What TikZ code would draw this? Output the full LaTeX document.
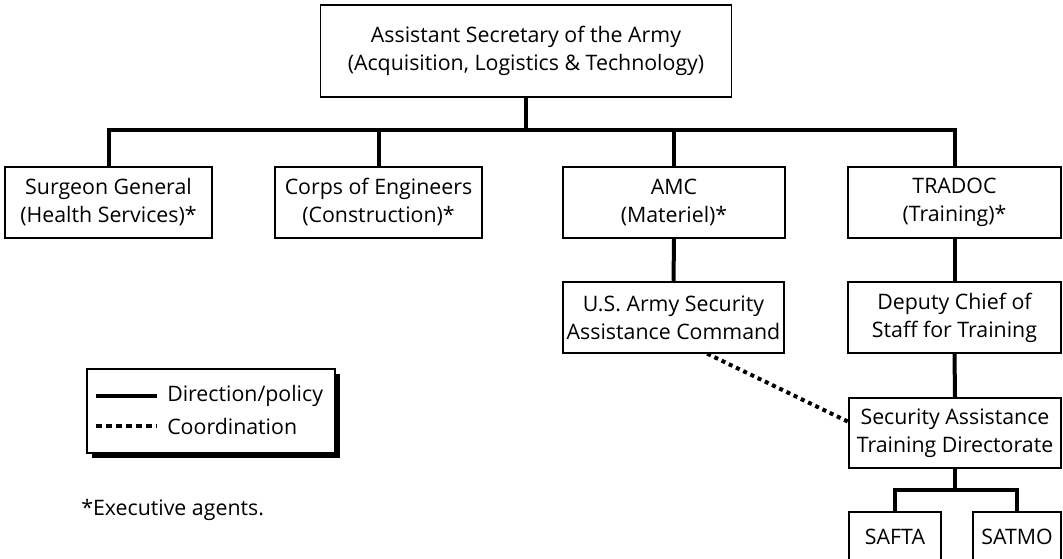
\documentclass[tikz,border=0pt]{standalone}
\usepackage{fontspec}
\setmainfont{Open Sans}
\usetikzlibrary{positioning, calc, shadows}
\definecolor{Ink}{HTML}{000000}
\definecolor{Paper}{HTML}{FFFFFF}
\newdimen\pxu
\pxu=0.75pt
\tikzset{
    orgbox/.style={rectangle, draw=Ink, line width=1pt, fill=Paper, text=Ink, align=center, inner sep=0pt,
        font=\fontsize{16}{21}\selectfont},
    orgtext/.style={anchor=west, inner sep=0pt, text=Ink, font=\fontsize{16}{21}\selectfont},
    tree/.style={draw=Ink, line width=3pt},
    coord/.style={draw=Ink, line width=3pt, dash pattern=on 3pt off 3pt},
    legendbox/.style={rectangle, draw=Ink, line width=1pt, fill=Paper,
        drop shadow={shadow xshift=5\pxu, shadow yshift=-5\pxu, fill=Ink, opacity=1}},
}

\begin{document}
\begin{tikzpicture}[x=0.75pt, y=-0.75pt]
    \clip (0,0) rectangle (1063,559);
    \useasboundingbox (0,0) rectangle (1063,559);

    % Vertice
    \node[orgbox, minimum width=411\pxu, minimum height=92\pxu] (asa) at (526,51)
        {Assistant Secretary of the Army\\(Acquisition, Logistics \& Technology)};

    % Agenti esecutivi
    \node[orgbox, minimum width=207\pxu, minimum height=71\pxu] (sg) at (108.5,202.5) {Surgeon General\\(Health Services)*};
    \node[orgbox, minimum width=207\pxu, minimum height=71\pxu] (coe) at (378.5,202.5) {Corps of Engineers\\(Construction)*};
    \node[orgbox, minimum width=222\pxu, minimum height=71\pxu] (amc) at (674,202.5) {AMC\\(Materiel)*};
    \node[orgbox, minimum width=213\pxu, minimum height=71\pxu] (tradoc) at (954.5,202.5) {TRADOC\\(Training)*};

    % Livello inferiore
    \node[orgbox, minimum width=221\pxu, minimum height=71\pxu] (usasac) at (673.5,317.5) {U.S. Army Security\\Assistance Command};
    \node[orgbox, minimum width=213\pxu, minimum height=71\pxu] (dcst) at (954.5,317.5) {Deputy Chief of\\Staff for Training};
    \node[orgbox, minimum width=212\pxu, minimum height=70\pxu] (satd) at (955,433) {Security Assistance\\Training Directorate};
    \node[orgbox, minimum width=92\pxu, minimum height=50\pxu] (safta) at (895,537) {SAFTA};
    \node[orgbox, minimum width=88\pxu, minimum height=50\pxu] (satmo) at (1017,537) {SATMO};

    % Linee di direzione
    \coordinate (bar) at (530,130);
    \coordinate (sbar) at (957,490);
    \draw[tree] (asa.south) -- (asa.south |- bar);
    \draw[tree] (sg.north) |- (bar) -| (tradoc.north);
    \draw[tree] (coe.north) -- (coe.north |- bar);
    \draw[tree] (amc.north) -- (amc.north |- bar);
    \draw[tree] (amc.south) -- (usasac.north);
    \draw[tree] (tradoc.south) -- (dcst.north);
    \draw[tree] (dcst.south) -- (satd.north);
    \draw[tree] (satd.south) -- (satd.south |- sbar);
    \draw[tree] (safta.north) |- (sbar) -| (satmo.north);

    % Coordinamento
    \draw[coord] (usasac.-47) -- (satd.174);

    % Legenda
    \node[legendbox, minimum width=248\pxu, minimum height=84\pxu] (legend) at (211,411) {};
    \coordinate (solidA) at (96,396);
    \coordinate (solidB) at (157,396);
    \coordinate (dotA) at (96,426);
    \coordinate (dotB) at (157,426);
    \draw[tree] (solidA) -- (solidB);
    \draw[draw=Ink, line width=3pt, dash pattern=on 4.5pt off 3pt] (dotA) -- (dotB);
    \node[orgtext] (dirtxt) at (167,396) {Direction/policy};
    \node[orgtext] (cootxt) at (167,426) {Coordination};

    \node[orgtext] (note) at (81,510) {*Executive agents.};
\end{tikzpicture}
\end{document}
